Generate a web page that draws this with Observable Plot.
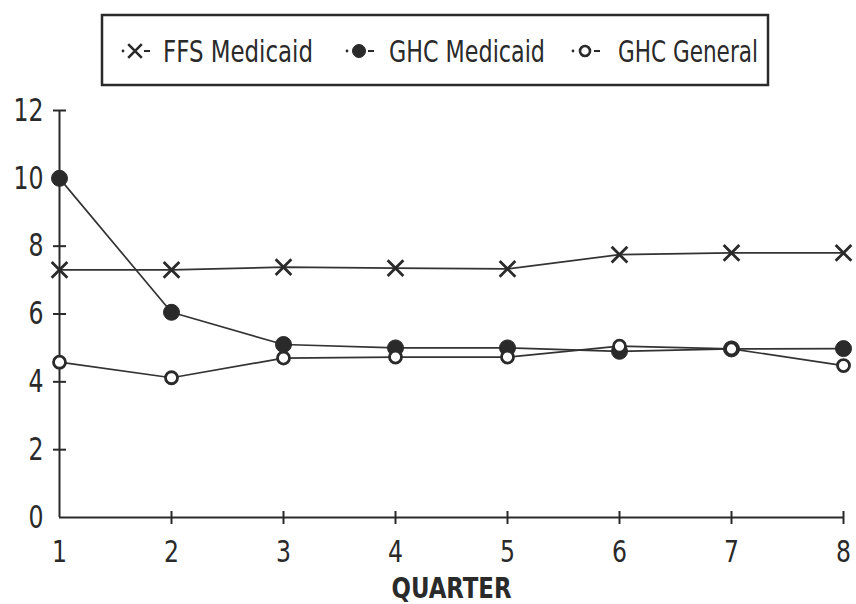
<!DOCTYPE html>
<html>
<head>
<meta charset="utf-8">
<script src="https://cdn.jsdelivr.net/npm/d3@7"></script>
<script src="https://cdn.jsdelivr.net/npm/@observablehq/plot@0.6"></script>
<style>
  html, body { margin: 0; padding: 0; background: #ffffff; }
  body { width: 856px; height: 604px; overflow: hidden; font-family: "DejaVu Sans Condensed", "Liberation Sans Narrow", sans-serif; color: #2a2a2a; }
  svg { display: block; }
</style>
</head>
<body>
<div id="chart"></div>
<script>
// ---- data ----
const quarters = [1, 2, 3, 4, 5, 6, 7, 8];
const seriesNames = ["FFS Medicaid", "GHC Medicaid", "GHC General"];
const ffsMedicaid = [7.3, 7.3, 7.38, 7.35, 7.33, 7.75, 7.8, 7.8];
const ghcMedicaid = [10.0, 6.05, 5.1, 5.0, 5.0, 4.9, 4.97, 4.98];
const ghcGeneral = [4.58, 4.12, 4.7, 4.73, 4.73, 5.05, 4.97, 4.48];
const yTicks = [0, 2, 4, 6, 8, 10, 12];
const xLabel = "QUARTER";

// ---- build table ----
const seriesValues = [ffsMedicaid, ghcMedicaid, ghcGeneral];
const rows = seriesNames.flatMap((s, k) => quarters.map((q, i) => ({quarter: q, value: seriesValues[k][i], series: s})));
const bySeries = s => rows.filter(d => d.series === s);

const ink = "#2a2a2a";
const font = '"DejaVu Sans Condensed", "Liberation Sans Narrow", sans-serif';

// custom tick symbols crossing the axes
const hline = {draw(ctx, size) { const r = Math.sqrt(size / Math.PI); ctx.moveTo(-r, 0); ctx.lineTo(r, 0); }};
const vline = {draw(ctx, size) { const r = Math.sqrt(size / Math.PI); ctx.moveTo(0, -r); ctx.lineTo(0, r); }};

// ---- legend ----
const legend = d3.create("svg").attr("width", 856).attr("height", 95);
legend.append("rect").attr("x", 102).attr("y", 15).attr("width", 666).attr("height", 70)
  .attr("fill", "none").attr("stroke", ink).attr("stroke-width", 2.5);
const iconX = [122, 346, 572];
const textX = [163, 389, 618];
const textW = [150, 156, 140];
const legendSymbols = [
  {type: d3.symbolTimes, size: 7 * 7 * Math.PI * 0.8, fill: "none", stroke: ink, sw: 2.6},
  {type: d3.symbolCircle, size: 6.5 * 6.5 * Math.PI, fill: ink, stroke: ink, sw: 1},
  {type: d3.symbolCircle, size: 5 * 5 * Math.PI, fill: "#fff", stroke: ink, sw: 2.6}
];
seriesNames.forEach((name, k) => {
  const x0 = iconX[k], cy = 51;
  const g = legend.append("g");
  g.append("circle").attr("cx", x0 + 1).attr("cy", cy).attr("r", 1.4).attr("fill", ink);
  g.append("path").attr("d", d3.symbol(legendSymbols[k].type, legendSymbols[k].size)())
    .attr("transform", `translate(${x0 + 13},${cy})`)
    .attr("fill", legendSymbols[k].fill).attr("stroke", legendSymbols[k].stroke).attr("stroke-width", legendSymbols[k].sw);
  g.append("line").attr("x1", x0 + 22).attr("x2", x0 + 28).attr("y1", cy).attr("y2", cy)
    .attr("stroke", ink).attr("stroke-width", 2);
  legend.append("text").attr("x", textX[k]).attr("y", 62)
    .attr("font-family", font).attr("font-size", 30).attr("fill", ink)
    .attr("textLength", textW[k]).attr("lengthAdjust", "spacingAndGlyphs").text(name);
});

// ---- plot ----
const chart = Plot.plot({
  width: 856,
  height: 509,
  marginTop: 15,
  marginBottom: 87,
  marginLeft: 59,
  marginRight: 13,
  x: {domain: [1, 8]},
  y: {domain: [0, 12]},
  style: {fontFamily: font, color: ink, background: "transparent", overflow: "visible"},
  marks: [
    Plot.axisY(yTicks, {tickSize: 0, tickPadding: 16, fontSize: 32, label: null, tickFormat: d => String(d), className: "yax"}),
    Plot.axisX(quarters, {tickSize: 0, tickPadding: 22, fontSize: 31, label: null, tickFormat: d => String(d), className: "xax"}),
    Plot.ruleX([1], {y1: 0, y2: 12, stroke: ink, strokeWidth: 2}),
    Plot.ruleY([0], {x1: 1, x2: 8, stroke: ink, strokeWidth: 2}),
    Plot.dot(yTicks.slice(1), {x: 1, y: d => d, symbol: hline, r: 6.5, stroke: ink, strokeWidth: 2}),
    Plot.dot(quarters.slice(1), {x: d => d, y: 0, symbol: vline, r: 6.5, stroke: ink, strokeWidth: 2}),
    Plot.line(rows, {x: "quarter", y: "value", z: "series", stroke: "#333", strokeWidth: 1.7}),
    Plot.dot(bySeries(seriesNames[0]), {x: "quarter", y: "value", symbol: "times", r: 7.2, stroke: ink, strokeWidth: 2.8}),
    Plot.dot(bySeries(seriesNames[1]), {x: "quarter", y: "value", symbol: "circle", r: 8, fill: ink, stroke: ink, strokeWidth: 1}),
    Plot.dot(bySeries(seriesNames[2]), {x: "quarter", y: "value", symbol: "circle", r: 6, fill: "#fff", stroke: ink, strokeWidth: 2.8}),
    Plot.text([xLabel], {frameAnchor: "bottom", lineAnchor: "bottom", dy: 80, fontSize: 28, fontWeight: "bold", fill: ink, className: "qlabel"})
  ]
});

const svgSel = d3.select(chart);
svgSel.select(".qlabel text").attr("textLength", 120).attr("lengthAdjust", "spacingAndGlyphs");
svgSel.selectAll(".yax text, .xax text").each(function() {
  const t = d3.select(this);
  t.attr("textLength", 15 * t.text().length).attr("lengthAdjust", "spacingAndGlyphs");
});

const root = document.getElementById("chart");
root.appendChild(legend.node());
root.appendChild(chart);
</script>
</body>
</html>
